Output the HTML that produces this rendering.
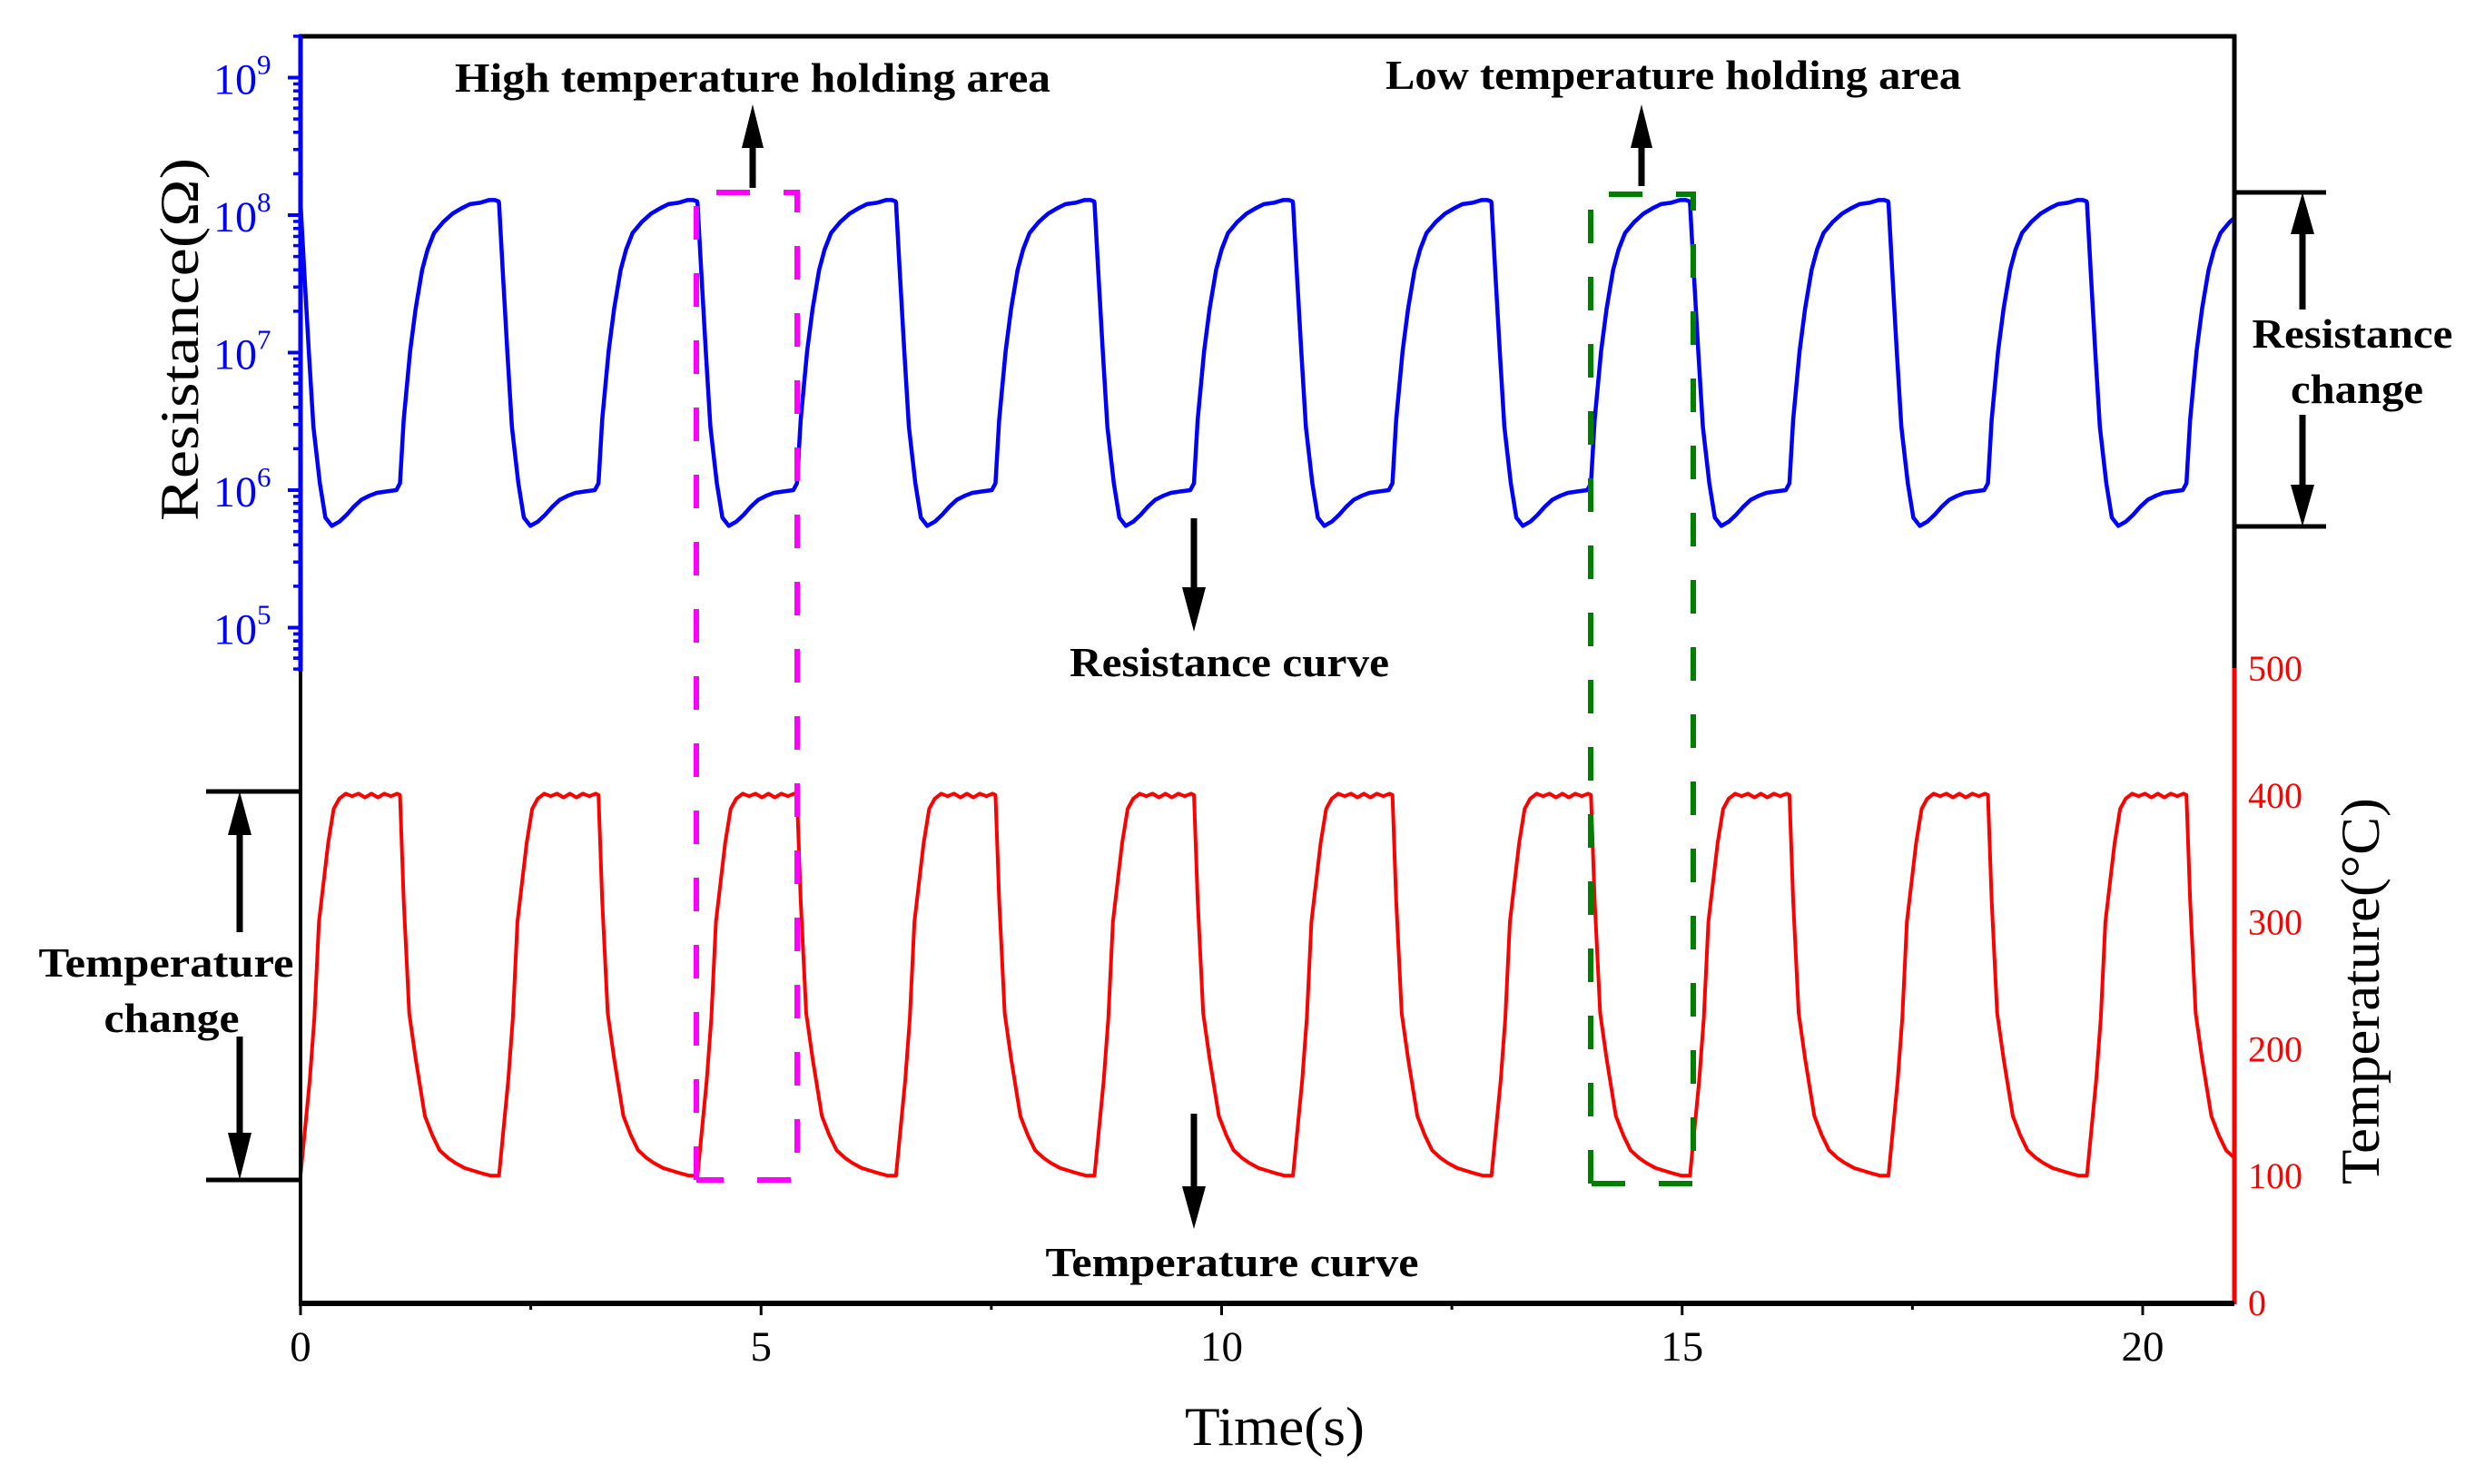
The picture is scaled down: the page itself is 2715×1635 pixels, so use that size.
<!DOCTYPE html>
<html><head><meta charset="utf-8"><style>
html,body{margin:0;padding:0;background:#fff}
svg{display:block}
text{font-family:"Liberation Serif",serif}
</style></head><body>
<svg id="chart" width="2715" height="1635" viewBox="0 0 2715 1635" xmlns="http://www.w3.org/2000/svg">
<defs><clipPath id="plotclip"><rect x="331" y="40" width="2129" height="1395"/></clipPath></defs>
<g id="series" clip-path="url(#plotclip)"></g>
<g id="boxes"></g>
<g id="axes"></g>
</svg>
<script>
// ---- data ----
const cycleStarts = [0, 2.155, 4.31, 6.465, 8.62, 10.775, 12.93, 15.085, 17.24, 19.395];
const tempShapeT = [0, 0.10, 0.15, 0.20, 0.30, 0.36, 0.42, 0.49, 0.56, 0.63, 0.70, 0.77, 0.84, 0.91, 0.98, 1.05, 1.08, 1.12, 1.18, 1.25, 1.35, 1.43, 1.51, 1.60, 1.68, 1.78, 1.87, 1.96, 2.06, 2.12];
const tempShapeV = [100, 175, 224, 300, 362, 389, 397, 401, 399, 401, 398, 401, 398, 401, 399, 401, 400, 317, 228, 192, 147, 132, 120, 114, 110, 106, 104, 102, 100, 100];
const resShapeT = [0, 0.04, 0.09, 0.14, 0.21, 0.27, 0.34, 0.42, 0.50, 0.58, 0.66, 0.75, 0.83, 0.93, 1.04, 1.08, 1.12, 1.19, 1.25, 1.32, 1.38, 1.45, 1.55, 1.65, 1.75, 1.84, 1.95, 2.05, 2.11, 2.15];
const resShapeLog = [8.09, 7.60, 7.01, 6.46, 6.05, 5.80, 5.74, 5.77, 5.82, 5.88, 5.93, 5.96, 5.98, 5.99, 6.00, 6.05, 6.51, 7.01, 7.32, 7.60, 7.75, 7.87, 7.95, 8.01, 8.05, 8.08, 8.09, 8.11, 8.11, 8.10];
const xTicks = [0, 5, 10, 15, 20];
const xMinorTicks = [2.5, 7.5, 12.5, 17.5];
const resDecades = [5, 6, 7, 8, 9];
const tempTicks = [0, 100, 200, 300, 400, 500];

// ---- scales ----
const X0 = 331, XPX = 101.45, XMAX = 21;
const xs = t => X0 + t * XPX;
const ysLog = L => 237 - (L - 8) * 151.5;
const ysT = T => 1435 - T * 1.398;
const NS = "http://www.w3.org/2000/svg";
function mk(tag, attrs, parent) {
  const e = document.createElementNS(NS, tag);
  for (const k in attrs) e.setAttribute(k, attrs[k]);
  parent.appendChild(e);
  return e;
}
const series = document.getElementById('series');
const axes = document.getElementById('axes');
const boxes = document.getElementById('boxes');

let rp = [], tp = [];
cycleStarts.forEach(c => {
  resShapeT.forEach((t, i) => { if (c + t <= XMAX + 0.3) rp.push([xs(c + t), ysLog(resShapeLog[i])]); });
  tempShapeT.forEach((t, i) => { if (c + t <= XMAX + 0.3) tp.push([xs(c + t), ysT(tempShapeV[i])]); });
});
const resLine = mk('polyline', {points: rp.map(p => p.join(',')).join(' '), fill: 'none', stroke: '#0000ff', 'stroke-width': 4.5, 'stroke-linejoin': 'round'}, series);


const tempLine = mk('polyline', {points: tp.map(p => p.join(',')).join(' '), fill: 'none', stroke: '#ff0000', 'stroke-width': 4, 'stroke-linejoin': 'round'}, series);



const mbox = mk('path', {d: 'M767,1300 L767,212 L878,212 L878,1300 L767,1300', fill: 'none', stroke: '#ff00ff', 'stroke-width': 6, 'stroke-dasharray': '37 37'}, boxes);


const gbox = mk('path', {d: 'M1752,1304 L1752,214 L1865,214 L1865,1304 L1752,1304', fill: 'none', stroke: '#008000', 'stroke-width': 6, 'stroke-dasharray': '37 37'}, boxes);



const frameTop = mk('line', {x1: 329, y1: 40, x2: 2463, y2: 40, stroke: '#000', 'stroke-width': 5}, axes);


const lAxB = mk('line', {x1: 331, y1: 40, x2: 331, y2: 740, stroke: '#0000ff', 'stroke-width': 5}, axes);


const lAxK = mk('line', {x1: 331, y1: 740, x2: 331, y2: 1437, stroke: '#000', 'stroke-width': 4}, axes);


const rAxK = mk('line', {x1: 2461, y1: 38, x2: 2461, y2: 736, stroke: '#000', 'stroke-width': 5}, axes);


const rAxR = mk('line', {x1: 2461, y1: 736, x2: 2461, y2: 1437, stroke: '#ff0000', 'stroke-width': 5}, axes);


const bAx = mk('line', {x1: 329, y1: 1436, x2: 2461, y2: 1436, stroke: '#000', 'stroke-width': 6}, axes);



xTicks.forEach(v => {
  const tk = mk('line', {x1: xs(v), y1: 1436, x2: xs(v), y2: 1449, stroke: '#000', 'stroke-width': 3}, axes);
  
  
  const tl = mk('text', {x: xs(v), y: 1499, 'font-size': 47, 'text-anchor': 'middle', fill: '#000'}, axes);
  tl.textContent = v;
  
  
});
xMinorTicks.forEach(v => {
  const tk = mk('line', {x1: xs(v), y1: 1436, x2: xs(v), y2: 1443, stroke: '#000', 'stroke-width': 3}, axes);
  
  
});
resDecades.forEach(d => {
  const y = ysLog(d);
  const tk = mk('line', {x1: 317, y1: y, x2: 331, y2: y, stroke: '#0000ff', 'stroke-width': 4}, axes);
  
  
  const tl = mk('text', {x: 283, y: y + 18, 'font-size': 48, 'text-anchor': 'end', fill: '#0000ff'}, axes);
  tl.textContent = '10';
  
  
  const sp = mk('text', {x: 283, y: y - 4, 'font-size': 31, fill: '#0000ff'}, axes);
  sp.textContent = d;
  
  
  for (let k = 2; k <= 9; k++) {
    const ym = ysLog(d - 1 + Math.log10(k));
    if (ym < 42 || ym > 740) continue;
    const mt = mk('line', {x1: 323, y1: ym, x2: 331, y2: ym, stroke: '#0000ff', 'stroke-width': 3.5}, axes);
    
    
  }
});
for (let k = 6; k <= 9; k++) {
  const ym = ysLog(4 + Math.log10(k));
  if (ym > 740) continue;
  const mt = mk('line', {x1: 323, y1: ym, x2: 331, y2: ym, stroke: '#0000ff', 'stroke-width': 3.5}, axes);
  
  
}
{
  const ym = ysLog(9 + Math.log10(2));
  const mt = mk('line', {x1: 323, y1: ym, x2: 331, y2: ym, stroke: '#0000ff', 'stroke-width': 3.5}, axes);
  
  
}
tempTicks.forEach(v => {
  const tl = mk('text', {x: 2476, y: ysT(v) + 14, 'font-size': 40, fill: '#ff0000'}, axes);
  tl.textContent = v;
  
  
});
</script>
<svg style="position:absolute;left:0;top:0" width="2715" height="1635" viewBox="0 0 2715 1635" xmlns="http://www.w3.org/2000/svg">
<text x="1404" y="1592" font-size="60" text-anchor="middle" textLength="198" lengthAdjust="spacingAndGlyphs">Time(s)</text>
<text transform="translate(218,374) rotate(-90)" font-size="60" text-anchor="middle" textLength="400" lengthAdjust="spacingAndGlyphs">Resistance(Ω)</text>
<text transform="translate(2620,1092) rotate(-90)" font-size="60" text-anchor="middle" textLength="426" lengthAdjust="spacingAndGlyphs">Temperature(°C)</text>

<g font-weight="bold" font-size="46">
<text x="829" y="101" text-anchor="middle" textLength="656" lengthAdjust="spacingAndGlyphs">High temperature holding area</text>
<text x="1843" y="98" text-anchor="middle" textLength="634" lengthAdjust="spacingAndGlyphs">Low temperature holding area</text>
<text x="1354" y="745" text-anchor="middle" textLength="352" lengthAdjust="spacingAndGlyphs">Resistance curve</text>
<text x="1357" y="1406" text-anchor="middle" textLength="411" lengthAdjust="spacingAndGlyphs">Temperature curve</text>
<text x="2591" y="383" text-anchor="middle" textLength="221" lengthAdjust="spacingAndGlyphs">Resistance</text>
<text x="2596" y="444" text-anchor="middle" textLength="146" lengthAdjust="spacingAndGlyphs">change</text>
<text x="183" y="1076" text-anchor="middle" textLength="281" lengthAdjust="spacingAndGlyphs">Temperature</text>
<text x="189" y="1137" text-anchor="middle" textLength="149" lengthAdjust="spacingAndGlyphs">change</text>
</g>
<g stroke="#000" stroke-width="7" fill="#000">
<line x1="829" y1="207" x2="829" y2="160"/>
<polygon points="817,163 841,163 829,115" stroke="none"/>
<line x1="1808" y1="205" x2="1808" y2="160"/>
<polygon points="1796,163 1820,163 1808,115" stroke="none"/>
<line x1="1315" y1="571" x2="1315" y2="650"/>
<polygon points="1302,647 1328,647 1315,696" stroke="none"/>
<line x1="1315" y1="1227" x2="1315" y2="1310"/>
<polygon points="1302,1307 1328,1307 1315,1354" stroke="none"/>
<line x1="2461" y1="212" x2="2562" y2="212" stroke-width="5"/>
<line x1="2461" y1="580" x2="2562" y2="580" stroke-width="5"/>
<line x1="2536" y1="341" x2="2536" y2="255"/>
<polygon points="2523,258 2549,258 2536,212" stroke="none"/>
<line x1="2536" y1="457" x2="2536" y2="537"/>
<polygon points="2523,534 2549,534 2536,580" stroke="none"/>
<line x1="227" y1="872" x2="331" y2="872" stroke-width="5"/>
<line x1="227" y1="1300" x2="331" y2="1300" stroke-width="5"/>
<line x1="264" y1="1027" x2="264" y2="915"/>
<polygon points="251,920 277,920 264,872" stroke="none"/>
<line x1="264" y1="1142" x2="264" y2="1252"/>
<polygon points="251,1248 277,1248 264,1300" stroke="none"/>
</g>
</svg>
</body></html>
